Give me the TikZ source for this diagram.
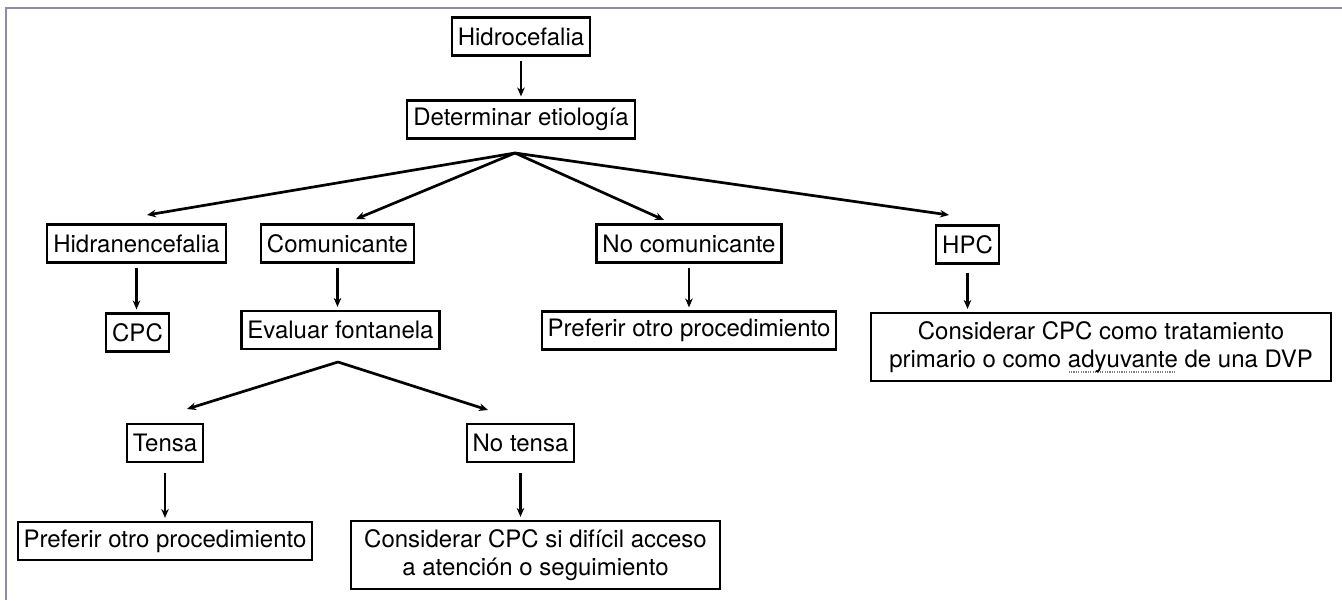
\documentclass[tikz,border=0pt]{standalone}
\usepackage{fontspec}
\setmainfont{TeX Gyre Heros}
\usetikzlibrary{arrows.meta,calc}
\definecolor{framecol}{RGB}{140,140,175}
\newsavebox\udbox
\newcommand\graydotuline[1]{\sbox\udbox{#1}\makebox[0pt][l]{\textcolor{gray}{\raisebox{-2.6pt}{\hbox to \wd\udbox{\leaders\hbox to 1.2pt{\hss\rule{0.6pt}{0.6pt}\hss}\hfill}}}}\usebox\udbox}
\begin{document}
\begin{tikzpicture}[x=0.5pt,y=-0.5pt,
  box/.style={draw, line width=1.1pt, inner xsep=3pt, inner ysep=0pt, minimum height=19pt,
    font=\fontsize{12}{14}\selectfont, align=center},
  arr/.style={-{Stealth[length=4.5pt,width=3.8pt]}, line width=1.15pt},
  fan/.style={arr, line width=1.35pt},
  vshort/.style={shorten <=2pt, shorten >=1.5pt}]
\useasboundingbox (0,0) rectangle (1342,600);
\draw[framecol, line width=1pt] (6,600) -- (6,8) -- (1342,8);

\node[box] (hydro) at (521,36.5) {Hidrocefalia};
\node[box] (det) at (521,119.5) {Determinar etiología};
\coordinate (apex) at (515,153);

\node[box] (hidra) at (136.5,243.5) {Hidranencefalia};
\node[box] (comu) at (337.5,243.5) {Comunicante};
\node[box] (nocom) at (689,243.5) {No comunicante};
\node[box] (hpc) at (967.5,244.5) {HPC};

\node[box] (cpc) at (137.5,332.5) {CPC};
\node[box] (eval) at (340.5,330) {Evaluar fontanela};
\node[box] (pref1) at (689,330.5) {Preferir otro procedimiento};
\node[box, minimum width=230pt, minimum height=34pt] (cons1) at (1101,347)
  {Considerar CPC como tratamiento\\primario o como \graydotuline{adyuvante} de una DVP};

\coordinate (fapex) at (338,362);
\node[box] (tensa) at (165,443) {Tensa};
\node[box] (notensa) at (520.5,443) {No tensa};

\node[box] (pref2) at (165,541) {Preferir otro procedimiento};
\node[box, minimum width=184.5pt, minimum height=34pt] (cons2) at (535.5,555)
  {Considerar CPC si difícil acceso\\a atención o seguimiento};

% tips of the fan arrows
\coordinate (thidra) at (147,215);
\coordinate (tcomu) at (356,219);
\coordinate (tnocom) at (664,220);
\coordinate (thpc) at (949,215);
\coordinate (ttensa) at (187,409);
\coordinate (tnotensa) at (488,410);

\draw[arr, vshort] (hydro.south) -- (hydro.south |- det.north);
\draw[fan] (apex) -- (thidra);
\draw[fan] (apex) -- (tcomu);
\draw[fan] (apex) -- (tnocom);
\draw[fan] (apex) -- (thpc);

\draw[arr, vshort] (hidra.south) -- (hidra.south |- cpc.north);
\draw[arr, vshort] (comu.south) -- (comu.south |- eval.north);
\draw[arr, vshort] (nocom.south) -- (nocom.south |- pref1.north);
\draw[arr, vshort] ([yshift=-2pt]hpc.south) -- (hpc.south |- cons1.north);

\draw[fan] (fapex) -- (ttensa);
\draw[fan] (fapex) -- (tnotensa);

\draw[arr, vshort] ([yshift=-3pt]tensa.south) -- (tensa.south |- pref2.north);
\draw[arr, vshort] ([yshift=-3pt]notensa.south) -- (notensa.south |- cons2.north);
\end{tikzpicture}
\end{document}
